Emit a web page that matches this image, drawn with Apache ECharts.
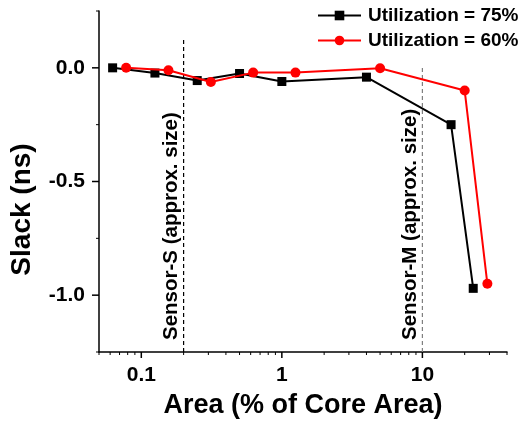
<!DOCTYPE html>
<html>
<head>
<meta charset="utf-8">
<script src="https://cdn.jsdelivr.net/npm/echarts@6/dist/echarts.min.js"></script>
<style>html,body{margin:0;padding:0;background:#fff;}#c{width:521px;height:424px;}</style>
</head>
<body>
<div id="c"></div>
<script>
// Data
const area75 = [0.0625, 0.125, 0.25, 0.5, 1, 4, 16, 23];
const slack75 = [0, -0.023, -0.056, -0.025, -0.06, -0.041, -0.25, -0.97];
const area60 = [0.078, 0.156, 0.3125, 0.625, 1.25, 5, 20, 29];
const slack60 = [0, -0.011, -0.062, -0.021, -0.021, -0.002, -0.10, -0.95];
const seriesNames = ['Utilization = 75%', 'Utilization = 60%'];
const sensorNames = ['Sensor-S (approx. size)', 'Sensor-M (approx. size)'];
const sensorArea = [0.2, 10];
const sensorTop = [0.13, 0.01];
const xMajorTicks = [0.1, 1, 10];
const xMinorTicks = [0.05, 0.06, 0.07, 0.08, 0.09, 0.2, 0.3, 0.4, 0.5, 0.6, 0.7, 0.8, 0.9, 2, 3, 4, 5, 6, 7, 8, 9, 20, 30, 40];
const yMajorTicks = [-1, -0.5, 0];
const yMinorTicks = [-1.25, -0.75, -0.25, 0.25];

const X_MIN = 0.05, X_MAX = 40, Y_MIN = -1.25, Y_MAX = 0.25;
const FONT = 'Liberation Sans, Arial, sans-serif';
const zip = (a, b) => a.map((v, i) => [v, b[i]]);

const chart = echarts.init(document.getElementById('c'), null, {renderer: 'canvas'});

function sensorSeries(i, color) {
  return {
    name: sensorNames[i], type: 'line', silent: true, symbol: 'none',
    data: [[sensorArea[i], Y_MIN], [sensorArea[i], sensorTop[i]]],
    lineStyle: {color: color, width: 1.2, type: [4, 3]},
    markLine: {silent: true, symbol: 'none', lineStyle: {width: 0, color: 'rgba(0,0,0,0)'},
      label: {show: true, position: 'insideStartTop', formatter: sensorNames[i], distance: [12, 2],
        fontFamily: FONT, fontWeight: 'bold', fontSize: 20.5, color: '#000', opacity: 1},
      data: [[{coord: [sensorArea[i], Y_MIN]}, {coord: [sensorArea[i], sensorTop[i]]}]]}
  };
}

// axis ticks drawn through the axes' scales (x: below the axis line, y: left of it)
function xTickSeries(values, len, width) {
  return {
    type: 'custom', silent: true, clip: false, z: 5,
    data: values.map(v => [v, Y_MIN]),
    encode: {x: 0, y: 1},
    renderItem: (params, api) => {
      const p = api.coord([api.value(0), api.value(1)]);
      return {type: 'line', shape: {x1: p[0], y1: p[1], x2: p[0], y2: p[1] + len},
        style: {stroke: '#000', lineWidth: width}};
    }
  };
}
function yTickSeries(values, len, width) {
  return {
    type: 'custom', silent: true, clip: false, z: 5,
    data: values.map(v => [X_MIN, v]),
    encode: {x: 0, y: 1},
    renderItem: (params, api) => {
      const p = api.coord([api.value(0), api.value(1)]);
      return {type: 'line', shape: {x1: p[0] - len, y1: p[1], x2: p[0], y2: p[1]},
        style: {stroke: '#000', lineWidth: width}};
    }
  };
}

chart.setOption({
  animation: false,
  backgroundColor: '#fff',
  grid: {left: 99, right: 14, top: 11, bottom: 71},
  legend: {
    data: seriesNames,
    orient: 'vertical',
    left: 317, top: 6, padding: 0,
    itemWidth: 43, itemHeight: 12, itemGap: 6,
    textStyle: {fontFamily: FONT, fontWeight: 'bold', fontSize: 19, color: '#000', padding: [0, 0, 0, 2]}
  },
  xAxis: {
    type: 'log', logBase: 10, min: X_MIN, max: X_MAX, position: 'bottom',
    splitLine: {show: false},
    name: 'Area (% of Core Area)', nameLocation: 'middle', nameGap: 40,
    nameTextStyle: {fontFamily: FONT, fontWeight: 'bold', fontSize: 27, color: '#000'},
    axisLine: {show: true, onZero: false, lineStyle: {color: '#000', width: 1.5}},
    axisTick: {show: false},
    axisLabel: {show: true, customValues: xMajorTicks, margin: 13, fontFamily: FONT, fontWeight: 'bold', fontSize: 21, color: '#000',
      formatter: v => String(+(+v).toPrecision(6))}
  },
  yAxis: {
    type: 'value', min: Y_MIN, max: Y_MAX, position: 'left',
    splitLine: {show: false},
    name: 'Slack (ns)', nameLocation: 'middle', nameGap: 63, nameRotate: 90,
    nameTextStyle: {fontFamily: FONT, fontWeight: 'bold', fontSize: 28, color: '#000', padding: [0, 56, 0, 0]},
    axisLine: {show: true, onZero: false, lineStyle: {color: '#000', width: 1.5}},
    axisTick: {show: false},
    axisLabel: {show: true, customValues: yMajorTicks, margin: 14, fontFamily: FONT, fontWeight: 'bold', fontSize: 21, color: '#000',
      formatter: v => (+v).toFixed(1)}
  },
  series: [
    xTickSeries(xMinorTicks, 3, 1),
    xTickSeries(xMajorTicks, 6, 1.5),
    yTickSeries(yMinorTicks, 3, 1),
    yTickSeries(yMajorTicks, 7, 1.5),
    sensorSeries(0, '#000'),
    sensorSeries(1, '#808080'),
    {
      name: seriesNames[0], type: 'line', data: zip(area75, slack75), z: 3,
      symbol: 'rect', symbolSize: 9, showAllSymbol: true,
      lineStyle: {color: '#000', width: 2}, itemStyle: {color: '#000'}
    },
    {
      name: seriesNames[1], type: 'line', data: zip(area60, slack60), z: 4,
      symbol: 'circle', symbolSize: 10, showAllSymbol: true,
      lineStyle: {color: '#ff0000', width: 2}, itemStyle: {color: '#ff0000'}
    }
  ]
});
</script>
</body>
</html>
